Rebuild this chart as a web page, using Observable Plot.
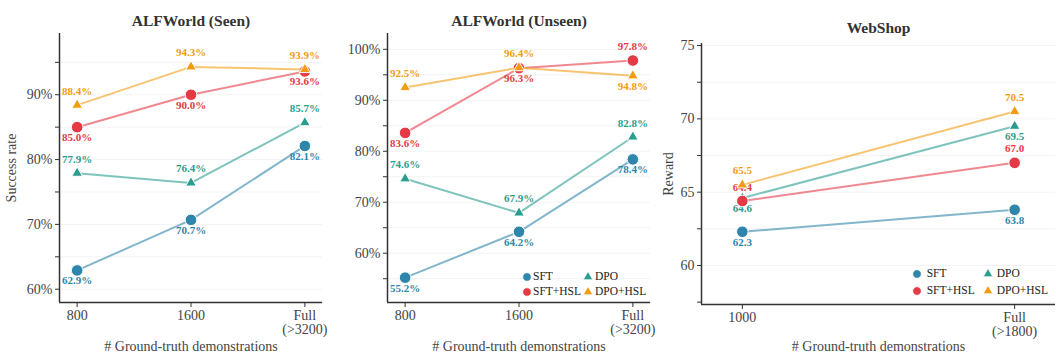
<!DOCTYPE html>
<html><head><meta charset="utf-8">
<script src="https://cdn.jsdelivr.net/npm/d3@7"></script>
<script src="https://cdn.jsdelivr.net/npm/@observablehq/plot@0.6"></script>
<style>
body{margin:0;background:#fff;}
#wrap{position:relative;width:1056px;height:358px;overflow:hidden;font-family:"Liberation Serif","Times New Roman",Tinos,"DejaVu Serif",serif;background:#fff;}
.panel{position:absolute;top:0;}
.legmark{position:absolute;width:12px;height:12px;}
.legtext{position:absolute;font-size:11.5px;color:#222;white-space:nowrap;transform:translateY(-50%);line-height:1;}
</style></head><body><div id="wrap"></div>
<script>
// ---------- data ----------
const seriesNames = ["SFT", "DPO", "SFT+HSL", "DPO+HSL"];

const seenX = ["800", "1600", "Full\n(>3200)"];
const seenSFT = [62.9, 70.7, 82.1];
const seenDPO = [77.9, 76.4, 85.7];
const seenSFTHSL = [85.0, 90.0, 93.6];
const seenDPOHSL = [88.4, 94.3, 93.9];

const unseenX = ["800", "1600", "Full\n(>3200)"];
const unseenSFT = [55.2, 64.2, 78.4];
const unseenDPO = [74.6, 67.9, 82.8];
const unseenSFTHSL = [83.6, 96.3, 97.8];
const unseenDPOHSL = [92.5, 96.4, 94.8];

const webX = ["1000", "Full\n(>1800)"];
const webSFT = [62.3, 63.8];
const webDPO = [64.6, 69.5];
const webSFTHSL = [64.4, 67.0];
const webDPOHSL = [65.5, 70.5];

const seenTicks = [60, 70, 80, 90];
const seenMinor = [65, 75, 85, 95];
const unseenTicks = [60, 70, 80, 90, 100];
const unseenMinor = [55, 65, 75, 85, 95];
const webTicks = [60, 65, 70, 75];
const webMinor = [57.5, 62.5, 67.5, 72.5];

// ---------- style / layout ----------
const FONT = '"Liberation Serif","Times New Roman",Tinos,"DejaVu Serif",serif';
const colors = {"SFT": "#2E86AB", "DPO": "#2A9D8F", "SFT+HSL": "#E63946", "DPO+HSL": "#F39C12"};
const symbols = {"SFT": "circle", "DPO": "triangle", "SFT+HSL": "circle", "DPO+HSL": "triangle"};
const A = "above", B = "below";
const seenSides = [[B,B,B],[A,A,A],[B,B,B],[A,A,A]];
const unseenSides = [[B,B,B],[A,A,A],[B,B,A],[A,A,B]];
const webSides = [[B,B],[B,B],[A,A],[A,A]];

function makePanel(cfg) {
  const n = cfg.xs.length;
  const rows = [];
  cfg.values.forEach((vals, si) => {
    vals.forEach((v, i) => rows.push({series: seriesNames[si], xi: i, y: v, side: cfg.sides[si][i]}));
  });
  const xDomain = [-cfg.pad, n - 1 + cfg.pad];
  const marks = [
    Plot.gridY(cfg.ticks.concat(cfg.minor), {stroke: "#000", strokeOpacity: 0.05, strokeWidth: 1}),
    Plot.axisY(cfg.ticks, {tickSize: 4, tickPadding: 3, stroke: "#333", fill: "#444", fontSize: 14,
      tickFormat: cfg.tickFmt, label: cfg.ylabel, labelAnchor: "center", labelArrow: "none", labelOffset: cfg.ylabelOffset}),
    Plot.axisY(cfg.minor, {tickSize: 4, stroke: "#333", tickFormat: () => "", label: null}),
    Plot.axisX(d3.range(n), {tickSize: 5, tickPadding: 3, stroke: "#333", fill: "#444", fontSize: 14,
      tickFormat: i => cfg.xs[i],
      label: "# Ground-truth demonstrations", labelAnchor: "center", labelArrow: "none", labelOffset: cfg.xlabelOffset}),
    Plot.ruleX([xDomain[0]], {stroke: "#333", strokeWidth: 1.5}),
    Plot.ruleY([cfg.ydomain[0]], {stroke: "#333", strokeWidth: 1.5})
  ];
  for (const s of seriesNames) {
    const d = rows.filter(r => r.series === s);
    marks.push(Plot.line(d, {x: "xi", y: "y", stroke: colors[s], strokeOpacity: 0.6, strokeWidth: 2}));
    marks.push(Plot.dot(d, {x: "xi", y: "y", fill: colors[s], stroke: "white", strokeWidth: 1,
      symbol: symbols[s], r: symbols[s] === "circle" ? 5.8 : 4}));
    marks.push(Plot.text(d.filter(r => r.side === "above"), {x: "xi", y: "y", text: r => cfg.labelFmt(r.y),
      fill: colors[s], fontWeight: "bold", fontSize: 11, dy: -14, lineAnchor: "middle"}));
    marks.push(Plot.text(d.filter(r => r.side === "below"), {x: "xi", y: "y", text: r => cfg.labelFmt(r.y),
      fill: colors[s], fontWeight: "bold", fontSize: 11, dy: 10.5, lineAnchor: "middle"}));
  }
  marks.push(Plot.text([cfg.title], {frameAnchor: "top", dy: cfg.titleDy, fontWeight: "bold", fontSize: 15.5, fill: "#333"}));
  return Plot.plot({
    width: cfg.width, height: 358,
    marginLeft: cfg.ml, marginRight: cfg.mr, marginTop: cfg.mt, marginBottom: cfg.mb,
    style: {fontFamily: FONT, fontSize: "14px", color: "#444", background: "transparent"},
    x: {domain: xDomain},
    y: {domain: cfg.ydomain},
    marks
  });
}

const pct = v => v.toFixed(1) + "%";
const wrap = document.getElementById("wrap");
const panels = [
  {left: 0, width: 340, ml: 59, mr: 18, mt: 33, mb: 56, pad: 0.155, ydomain: [57.95, 99.45],
   xs: seenX, values: [seenSFT, seenDPO, seenSFTHSL, seenDPOHSL], sides: seenSides,
   ticks: seenTicks, minor: seenMinor, tickFmt: d => d + "%", labelFmt: pct,
   ylabel: "Success rate", ylabelOffset: 53, xlabelOffset: 48, title: "ALFWorld (Seen)", titleDy: -18.5},
  {left: 340, width: 320, ml: 47, mr: 10, mt: 33, mb: 56, pad: 0.155, ydomain: [50.33, 103.1],
   xs: unseenX, values: [unseenSFT, unseenDPO, unseenSFTHSL, unseenDPOHSL], sides: unseenSides,
   ticks: unseenTicks, minor: unseenMinor, tickFmt: d => d + "%", labelFmt: pct,
   ylabel: null, ylabelOffset: 40, xlabelOffset: 48, title: "ALFWorld (Unseen)", titleDy: -18.5},
  {left: 660, width: 396, ml: 41, mr: 1, mt: 43, mb: 54, pad: 0.15, ydomain: [57.34, 75.14],
   xs: webX, values: [webSFT, webDPO, webSFTHSL, webDPOHSL], sides: webSides,
   ticks: webTicks, minor: webMinor, tickFmt: d => String(d), labelFmt: v => v.toFixed(1),
   ylabel: "Reward", ylabelOffset: 38, xlabelOffset: 46, title: "WebShop", titleDy: -21.3}
];
for (const p of panels) {
  const svg = makePanel(p);
  svg.classList.add("panel");
  svg.style.left = p.left + "px";
  wrap.appendChild(svg);
}

// ---------- legends (HTML) ----------
function legendItem(cx, cy, tx, name) {
  const ns = "http://www.w3.org/2000/svg";
  const m = document.createElementNS(ns, "svg");
  m.setAttribute("class", "legmark");
  m.setAttribute("viewBox", "-6 -6 12 12");
  m.style.left = (cx - 6) + "px"; m.style.top = (cy - 6) + "px";
  const sym = symbols[name] === "circle" ? d3.symbolCircle : d3.symbolTriangle;
  const size = symbols[name] === "circle" ? Math.PI * 4.3 * 4.3 : Math.PI * 3.6 * 3.6;
  const path = document.createElementNS(ns, "path");
  path.setAttribute("d", d3.symbol(sym, size)());
  path.setAttribute("fill", colors[name]);
  path.setAttribute("stroke", "white");
  path.setAttribute("stroke-width", "0.8");
  m.appendChild(path);
  wrap.appendChild(m);
  const t = document.createElement("div");
  t.className = "legtext";
  t.textContent = name;
  t.style.left = tx + "px"; t.style.top = cy + "px";
  wrap.appendChild(t);
}
const legends = [
  {c1: 526.7, t1: 533, c2: 588, t2: 595, r1: 276.7, r2: 291.7},
  {c1: 917, t1: 926.7, c2: 987.7, t2: 996.7, r1: 274, r2: 290.7}
];
for (const L of legends) {
  legendItem(L.c1, L.r1, L.t1, "SFT");
  legendItem(L.c2, L.r1, L.t2, "DPO");
  legendItem(L.c1, L.r2, L.t1, "SFT+HSL");
  legendItem(L.c2, L.r2, L.t2, "DPO+HSL");
}
</script></body></html>
